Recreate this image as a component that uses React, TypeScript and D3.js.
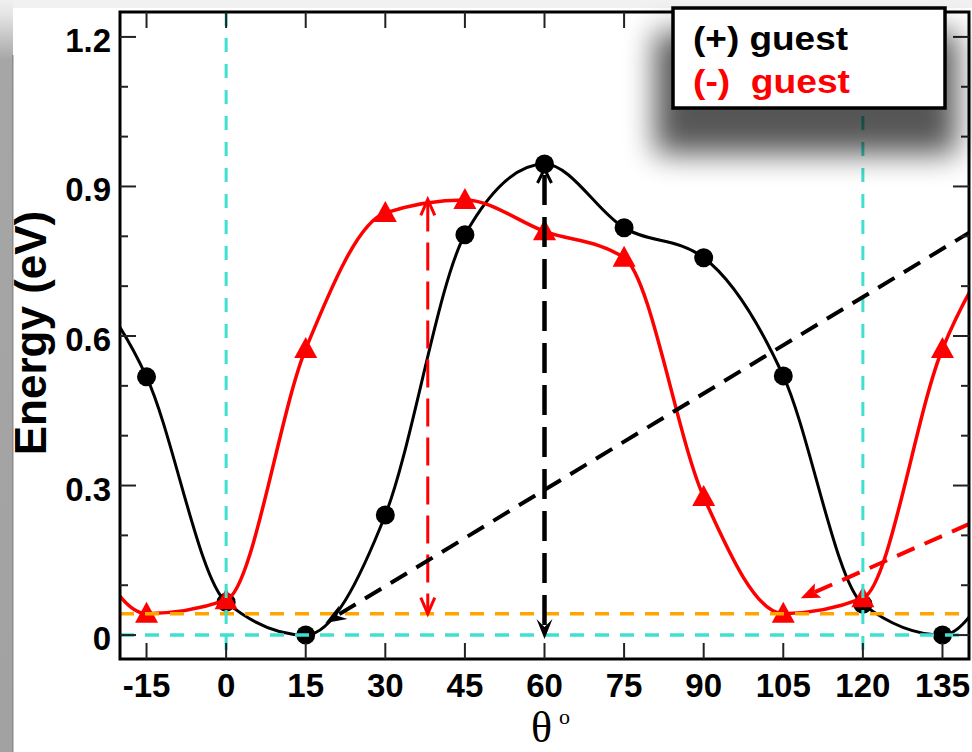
import React from 'react';
import * as d3 from 'd3';

const W = 972;
const H = 752;

// Angles (deg) of computed points; -30 and 150 are periodic repeats used to carry the curve to the frame
const angles = [-30, -15, 0, 15, 30, 45, 60, 75, 90, 105, 120, 135, 150];
const plusGuest = [0.757, 0.518, 0.066, 0.0, 0.241, 0.803, 0.945, 0.817, 0.757, 0.52, 0.062, 0.0, 0.241];
const minusGuest = [0.277, 0.043, 0.07, 0.574, 0.847, 0.873, 0.81, 0.757, 0.277, 0.043, 0.074, 0.574, 0.847];
const markerAngles = [-15, 0, 15, 30, 45, 60, 75, 90, 105, 120, 135];

const xTicks = [-15, 0, 15, 30, 45, 60, 75, 90, 105, 120, 135];
const yTicks = [0, 0.3, 0.6, 0.9, 1.2];
const yMinorTicks = [0.1, 0.2, 0.4, 0.5, 0.7, 0.8, 1.0, 1.1];
const yTickLabels = ['0', '0.3', '0.6', '0.9', '1.2'];

const cyanVertical = [0, 120];
const cyanHorizontal = [0];
const orangeHorizontal = [0.043];

// vertical double arrows: [theta, top energy, bottom energy]
const redBarrier = [38, 0.874, 0.043];
const blackBarrier = [60, 0.935, -0.008];
// diagonal pointers: [[theta tip, E tip], [theta far, E far]]
const blackPointer = [[18.7, 0.024], [142, 0.82]];
const redPointer = [[108.3, 0.074], [142, 0.232]];

const legendLabels = ['(+) guest', '(-)  guest'];
const seriesColors = ['#000000', '#ff0000'];

const x = d3.scaleLinear().domain([-20, 140]).range([120, 969]);
const y = d3.scaleLinear().domain([-0.048, 1.25]).range([659, 12]);

function barbed(tipX: number, tipY: number, fromX: number, fromY: number, len: number, half: number, notch: number) {
  const dx = tipX - fromX;
  const dy = tipY - fromY;
  const l = Math.hypot(dx, dy);
  const ux = dx / l, uy = dy / l;
  const px = -uy, py = ux;
  const bx = tipX - ux * len, by = tipY - uy * len;
  const nx = tipX - ux * notch, ny = tipY - uy * notch;
  return `M${tipX},${tipY}L${bx + px * half},${by + py * half}L${nx},${ny}L${bx - px * half},${by - py * half}Z`;
}

export default function App() {
  const line = d3
    .line<[number, number]>()
    .x((d) => x(d[0]))
    .y((d) => y(d[1]))
    .curve(d3.curveMonotoneX);

  const blackPts: [number, number][] = angles.map((a, i) => [a, plusGuest[i]]);
  const redPts: [number, number][] = angles.map((a, i) => [a, minusGuest[i]]);
  const blackMarks = blackPts.filter((p) => markerAngles.includes(p[0]));
  const redMarks = redPts.filter((p) => markerAngles.includes(p[0]));

  const x0 = x.range()[0], x1 = x.range()[1];
  const yTop = y.range()[1], yBot = y.range()[0];
  const font = "'Liberation Sans', Arial, Helvetica, sans-serif";

  const rX = x(redBarrier[0]), rT = y(redBarrier[1]), rB = y(redBarrier[2]);
  const bX = x(blackBarrier[0]), bT = y(blackBarrier[1]), bB = y(blackBarrier[2]);

  const bpTip = [x(blackPointer[0][0]), y(blackPointer[0][1])];
  const bpFar = [x(blackPointer[1][0]), y(blackPointer[1][1])];
  const rpTip = [x(redPointer[0][0]), y(redPointer[0][1])];
  const rpFar = [x(redPointer[1][0]), y(redPointer[1][1])];

  return (
    <svg width={W} height={H} style={{ position: 'absolute', left: 0, top: 0, background: '#fff' }}>
      <defs>
        <clipPath id="plotClip">
          <rect x={x0} y={yTop} width={x1 - x0} height={yBot - yTop} />
        </clipPath>
        <linearGradient id="leftStrip" x1="0" y1="0" x2="0" y2="1">
          <stop offset="0" stopColor="#f0f0f0" />
          <stop offset="0.02" stopColor="#e4e4e4" />
          <stop offset="0.08" stopColor="#a6a6a6" />
          <stop offset="1" stopColor="#a2a2a2" />
        </linearGradient>
        <filter id="shadowBlur" x="-40%" y="-80%" width="180%" height="260%">
          <feGaussianBlur stdDeviation="15" />
        </filter>
      </defs>

      {/* page decoration */}
      <rect x={0} y={0} width={W} height={8} fill="#f1f1f1" />
      <rect x={0} y={0} width={13} height={H} fill="url(#leftStrip)" />
      <rect x={12} y={55} width={1.5} height={H - 55} fill="#8c8c8c" />

      {/* curves */}
      <g clipPath="url(#plotClip)">
        <path d={line(blackPts) || ''} fill="none" stroke={seriesColors[0]} strokeWidth={3} />
        {blackMarks.map((p, i) => (
          <circle key={'b' + i} cx={x(p[0])} cy={y(p[1])} r={9.5} fill="#000" />
        ))}
        <path d={line(redPts) || ''} fill="none" stroke={seriesColors[1]} strokeWidth={3.5} />
        {redMarks.map((p, i) => {
          const cx = x(p[0]), cy = y(p[1]);
          return (
            <path key={'r' + i} d={`M${cx},${cy - 12}L${cx + 11.5},${cy + 9}L${cx - 11.5},${cy + 9}Z`} fill="#ff0000" />
          );
        })}
      </g>

      {/* reference lines */}
      <g clipPath="url(#plotClip)">
        {orangeHorizontal.map((v, i) => (
          <line key={'o' + i} x1={x0} x2={x1} y1={y(v)} y2={y(v)} stroke="#ffa500" strokeWidth={3.5} strokeDasharray="14 11" />
        ))}
        {cyanHorizontal.map((v, i) => (
          <line key={'ch' + i} x1={x0} x2={x1} y1={y(v)} y2={y(v)} stroke="#40e0d0" strokeWidth={3.5} strokeDasharray="14 11" />
        ))}
        {cyanVertical.map((v, i) => (
          <line key={'cv' + i} x1={x(v)} x2={x(v)} y1={yTop} y2={yBot} stroke="#40e0d0" strokeWidth={3} strokeDasharray="14 12" />
        ))}
      </g>

      {/* annotations */}
      <g clipPath="url(#plotClip)">
        <line x1={rX} x2={rX} y1={rT + 4} y2={rB - 4} stroke="#ff0000" strokeWidth={3} strokeDasharray="28 11" />
        <path d={`M${rX - 7},${rT + 16}L${rX},${rT}L${rX + 7},${rT + 16}`} fill="none" stroke="#ff0000" strokeWidth={3} />
        <path d={`M${rX - 7},${rB - 16}L${rX},${rB}L${rX + 7},${rB - 16}`} fill="none" stroke="#ff0000" strokeWidth={3} />
        <line x1={bX} x2={bX} y1={bT + 6} y2={bB - 14} stroke="#000" strokeWidth={4.5} strokeDasharray="30 12" />
        <path d={`M${bX - 7},${bT + 14}L${bX},${bT}L${bX + 7},${bT + 14}`} fill="none" stroke="#000" strokeWidth={3} />
        <path d={barbed(bX, bB, bX, bB - 50, 20, 8, 12)} fill="#000" />
        <line x1={bpTip[0] + 14} y1={bpTip[1] - 9} x2={bpFar[0]} y2={bpFar[1]} stroke="#000" strokeWidth={4} strokeDasharray="19 11" />
        <path d={barbed(bpTip[0], bpTip[1], bpFar[0], bpFar[1], 21, 8, 14)} fill="#000" />
        <line x1={rpTip[0] + 14} y1={rpTip[1] - 6} x2={rpFar[0]} y2={rpFar[1]} stroke="#ff0000" strokeWidth={4} strokeDasharray="19 11" />
        <path d={barbed(rpTip[0], rpTip[1], rpFar[0], rpFar[1], 19, 8, 15)} fill="#ff0000" />
      </g>

      {/* frame and ticks */}
      <rect x={x0} y={yTop} width={x1 - x0} height={yBot - yTop} fill="none" stroke="#000" strokeWidth={3} />
      {xTicks.map((t) => (
        <g key={'xt' + t}>
          <line x1={x(t)} x2={x(t)} y1={yBot} y2={yBot - 16} stroke="#222" strokeWidth={2} />
          <line x1={x(t)} x2={x(t)} y1={yTop} y2={yTop + 16} stroke="#222" strokeWidth={2} />
          <text x={x(t)} y={697} textAnchor="middle" fontFamily={font} fontWeight="bold" fontSize={33} fill="#000">
            {t}
          </text>
        </g>
      ))}
      {yTicks.map((t, i) => (
        <g key={'yt' + t}>
          <line x1={x0} x2={x0 + 16} y1={y(t)} y2={y(t)} stroke="#222" strokeWidth={2} />
          <line x1={x1} x2={x1 - 16} y1={y(t)} y2={y(t)} stroke="#222" strokeWidth={2} />
          <text x={111} y={y(t) + 15} textAnchor="end" fontFamily={font} fontWeight="bold" fontSize={33} fill="#000">
            {yTickLabels[i]}
          </text>
        </g>
      ))}
      {yMinorTicks.map((t) => (
        <g key={'ym' + t}>
          <line x1={x0} x2={x0 + 8} y1={y(t)} y2={y(t)} stroke="#222" strokeWidth={2} />
          <line x1={x1} x2={x1 - 8} y1={y(t)} y2={y(t)} stroke="#222" strokeWidth={2} />
        </g>
      ))}

      {/* axis titles */}
      <text transform={`translate(46,333) rotate(-90)`} textAnchor="middle" fontFamily={font} fontWeight="bold" fontSize={44} fill="#000">
        Energy (eV)
      </text>
      <text x={531} y={742} fontFamily="'Liberation Serif', 'Times New Roman', serif" fontSize={44} fill="#000">
        θ
      </text>
      <text x={559} y={724} fontFamily="'Liberation Serif', 'Times New Roman', serif" fontSize={22} fill="#000">
        o
      </text>

      {/* legend */}
      <rect x={655} y={32} width={302} height={122} fill="#000" opacity={0.66} filter="url(#shadowBlur)" />
      <rect x={673} y={8} width={272} height={100} fill="#fff" stroke="#000" strokeWidth={3.5} />
      <text x={693} y={50} fontFamily={font} fontWeight="bold" fontSize={33} fill={seriesColors[0]} textLength={155} lengthAdjust="spacingAndGlyphs">
        {legendLabels[0]}
      </text>
      <text x={693} y={93} fontFamily={font} fontWeight="bold" fontSize={33} fill={seriesColors[1]} textLength={157} lengthAdjust="spacingAndGlyphs" xmlSpace="preserve">
        {legendLabels[1]}
      </text>
    </svg>
  );
}
